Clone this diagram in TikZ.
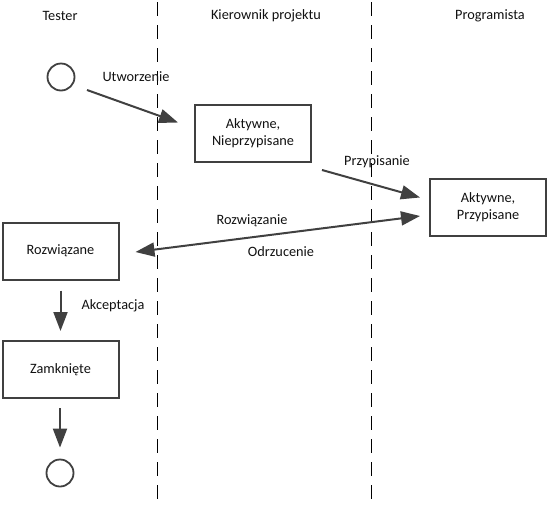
\documentclass[tikz,border=0pt]{standalone}
\usepackage{fontspec}
\setmainfont{Carlito}
\usetikzlibrary{arrows.meta,calc}
\definecolor{ln}{HTML}{404040}
\definecolor{tx}{HTML}{111111}
\begin{document}
\begin{tikzpicture}[x=1pt,y=-1pt,
  every node/.style={text=tx,font=\fontsize{14.3}{17}\selectfont},
  state/.style={draw=ln,line width=2pt,minimum width=116pt,minimum height=57pt,align=center,inner sep=2pt},
  term/.style={draw=ln,line width=1.8pt,circle,minimum size=27pt,inner sep=0pt},
  lane/.style={draw=black,line width=0.8pt,dash pattern=on 14pt off 9pt},
  flow/.style={draw=ln,line width=2pt,-{Triangle[length=19pt,width=14pt]}},
  flow2/.style={draw=ln,line width=2pt,{Triangle[length=19pt,width=14pt]}-{Triangle[length=19pt,width=14pt]}},
  lbl/.style={inner sep=0pt}]
\useasboundingbox (0,0) rectangle (549,504);
% swimlane separators
\coordinate (l1t) at (157,2);
\coordinate (l1b) at (157,504);
\coordinate (l2t) at (371,2);
\coordinate (l2b) at (371,504);
\draw[lane] (l1t) -- (l1b);
\draw[lane] (l2t) -- (l2b);
% headers
\node[lbl] (h1) at (60,16) {Tester};
\node[lbl] (h2) at (266,16) {Kierownik projektu};
\node[lbl] (h3) at (490,16) {Programista};
% nodes
\node[term] (start) at (61,77) {};
\node[state] (anp) at (253,133.5) {Aktywne,\\Nieprzypisane};
\node[state] (ap) at (488,207.5) {Aktywne,\\Przypisane};
\node[state] (roz) at (60.5,251) {Rozwiązane};
\node[state] (zam) at (60.5,369.5) {Zamknięte};
\node[term] (end) at (60,473) {};
% connector ends
\coordinate (c1a) at ($(start)+(26,13)$);
\coordinate (c1b) at ($(anp.west)+(-16,-11)$);
\coordinate (c2a) at ($(anp.south east)+(10,7)$);
\coordinate (c2b) at ($(ap.west)+(-9,-10)$);
\coordinate (c3a) at ($(roz.east)+(16,1)$);
\coordinate (c3b) at ($(ap.west)+(-9,8.5)$);
\coordinate (c4a) at ($(roz.south)+(0,10)$);
\coordinate (c4b) at ($(zam.north)+(0,-9)$);
\coordinate (c5a) at ($(zam.south)+(-0.5,9)$);
\coordinate (c5b) at ($(end.north)+(0,-11)$);
% connectors
\draw[flow] (c1a) -- (c1b);
\draw[flow] (c2a) -- (c2b);
\draw[flow2] (c3a) -- (c3b);
\draw[flow] (c4a) -- (c4b);
\draw[flow] (c5a) -- (c5b);
% labels
\node[lbl] (t1) at (136,77) {Utworzenie};
\node[lbl] (t2) at (377,162) {Przypisanie};
\node[lbl] (t3) at (252,221) {Rozwiązanie};
\node[lbl] (t4) at (281,252) {Odrzucenie};
\node[lbl] (t5) at (113,306) {Akceptacja};
\end{tikzpicture}
\end{document}
